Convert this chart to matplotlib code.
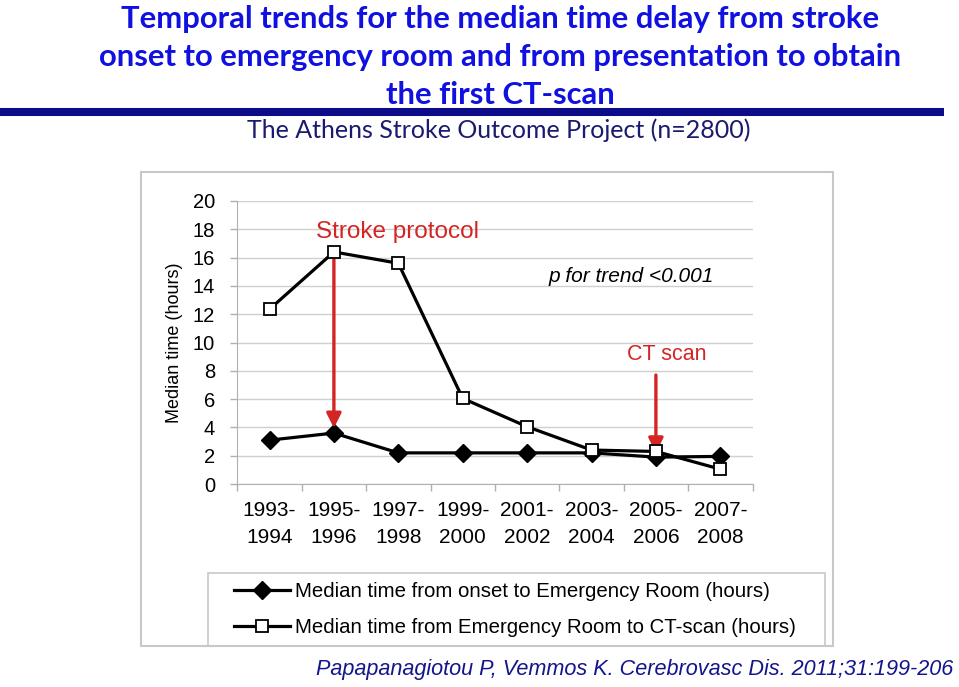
import numpy as np
import matplotlib
matplotlib.use('Agg')
from matplotlib import pyplot as plt
from matplotlib.lines import Line2D
from matplotlib.patches import Rectangle

# periods on the x axis
periods = ['1993-\n1994', '1995-\n1996', '1997-\n1998', '1999-\n2000',
           '2001-\n2002', '2003-\n2004', '2005-\n2006', '2007-\n2008']
# median hours
onset_to_er = [3.1, 3.6, 2.2, 2.2, 2.2, 2.2, 1.9, 1.95]
er_to_ct = [12.35, 16.4, 15.6, 6.05, 4.05, 2.4, 2.3, 1.05]
label_onset = 'Median time from onset to Emergency Room (hours)'
label_ct = 'Median time from Emergency Room to CT-scan (hours)'

W, H = 959, 687
fig = plt.figure(figsize=(W / 100, H / 100), dpi=100)
plt.rcParams['font.family'] = ['Liberation Sans', 'DejaVu Sans']


def fx(px):
    return px / W


def fy(py):
    return 1 - py / H


# header
title = ('Temporal trends for the median time delay from stroke\n'
         'onset to emergency room and from presentation to obtain\n'
         'the first CT-scan')
fig.text(fx(500), fy(57), title, ha='center', va='center', color='#1010E0',
         fontsize=22.3, fontweight='bold', family=['Lato', 'DejaVu Sans'],
         linespacing=1.45)
fig.add_artist(Line2D([0, fx(944)], [fy(112), fy(112)], color='#0C0C8A',
                      lw=5.8, solid_capstyle='butt'))
fig.text(fx(499), fy(130), 'The Athens Stroke Outcome Project (n=2800)',
         ha='center', va='center', color='#1A1A6E', fontsize=18,
         family=['Lato', 'DejaVu Sans'])

# outer frame of the chart and the legend box
fig.add_artist(Rectangle((fx(141), fy(646)), fx(833) - fx(141),
                         fy(172) - fy(646), transform=fig.transFigure,
                         fill=False, edgecolor='#C8C8C8', lw=1.5))
fig.add_artist(Rectangle((fx(208), fy(646)), fx(825) - fx(208),
                         fy(573) - fy(646), transform=fig.transFigure,
                         fill=False, edgecolor='#C8C8C8', lw=1.2))

ax = fig.add_axes([fx(237.3), fy(484), fx(752.5) - fx(237.3),
                   fy(201) - fy(484)])
x = np.arange(len(periods))
ax.plot(x, onset_to_er, color='black', lw=2.3, marker='D', markersize=9.5,
        markerfacecolor='black', label=label_onset, zorder=3)
ax.plot(x, er_to_ct, color='black', lw=2.3, marker='s', markersize=8.5,
        markerfacecolor='white', markeredgecolor='black', markeredgewidth=1.3,
        label=label_ct, zorder=4)

ax.set_xlim(-0.5, len(periods) - 0.5)
ax.set_ylim(0, 20)
ax.set_yticks(np.arange(0, 21, 2))
ax.yaxis.grid(True, color='#D0D0D0', lw=1)
ax.set_axisbelow(True)
ax.set_xticks(x)
ax.set_xticklabels(periods, fontsize=15, linespacing=1.55)
ax.set_xticks(np.arange(-0.5, len(periods)), minor=True)
ax.tick_params(axis='x', which='major', length=0, pad=12)
ax.tick_params(axis='x', which='minor', length=5, color='#B0B0B0', width=1)
ax.tick_params(axis='y', length=5, color='#B0B0B0', width=1, labelsize=14.5,
               pad=11)
for s in ['top', 'right']:
    ax.spines[s].set_visible(False)
for s in ['left', 'bottom']:
    ax.spines[s].set_color('#B0B0B0')
ax.set_ylabel('Median time (hours)', fontsize=13, labelpad=7)

red = '#D42424'
ax.annotate('', xy=(1, 3.95), xytext=(1, 16.0),
            arrowprops=dict(arrowstyle='-|>', color=red, lw=2.4,
                            mutation_scale=22, shrinkA=0, shrinkB=0))
ax.text(fx(397), fy(232), 'Stroke protocol', transform=fig.transFigure,
        ha='center', va='center', color=red, fontsize=17.5)
ax.annotate('', xy=(6, 2.2), xytext=(6, 7.7),
            arrowprops=dict(arrowstyle='-|>', color=red, lw=2.4,
                            mutation_scale=22, shrinkA=0, shrinkB=0))
ax.text(fx(667), fy(354), 'CT scan', transform=fig.transFigure,
        ha='center', va='center', color=red, fontsize=15.5)
ax.text(fx(631), fy(276), 'p for trend <0.001', transform=fig.transFigure,
        ha='center', va='center', color='black', fontsize=15, style='italic')

leg = ax.legend(loc='upper left', bbox_to_anchor=(fx(234), fy(582)),
                bbox_transform=fig.transFigure, fontsize=14.7,
                frameon=False, handlelength=2.75, handletextpad=0.25,
                labelspacing=0.82, borderpad=0, borderaxespad=0)

fig.text(fx(635), fy(670),
         'Papapanagiotou P, Vemmos K. Cerebrovasc Dis. 2011;31:199-206',
         ha='center', va='center', color='#14148C', fontsize=15.6,
         style='italic')

fig.savefig('out.png', dpi=100)
